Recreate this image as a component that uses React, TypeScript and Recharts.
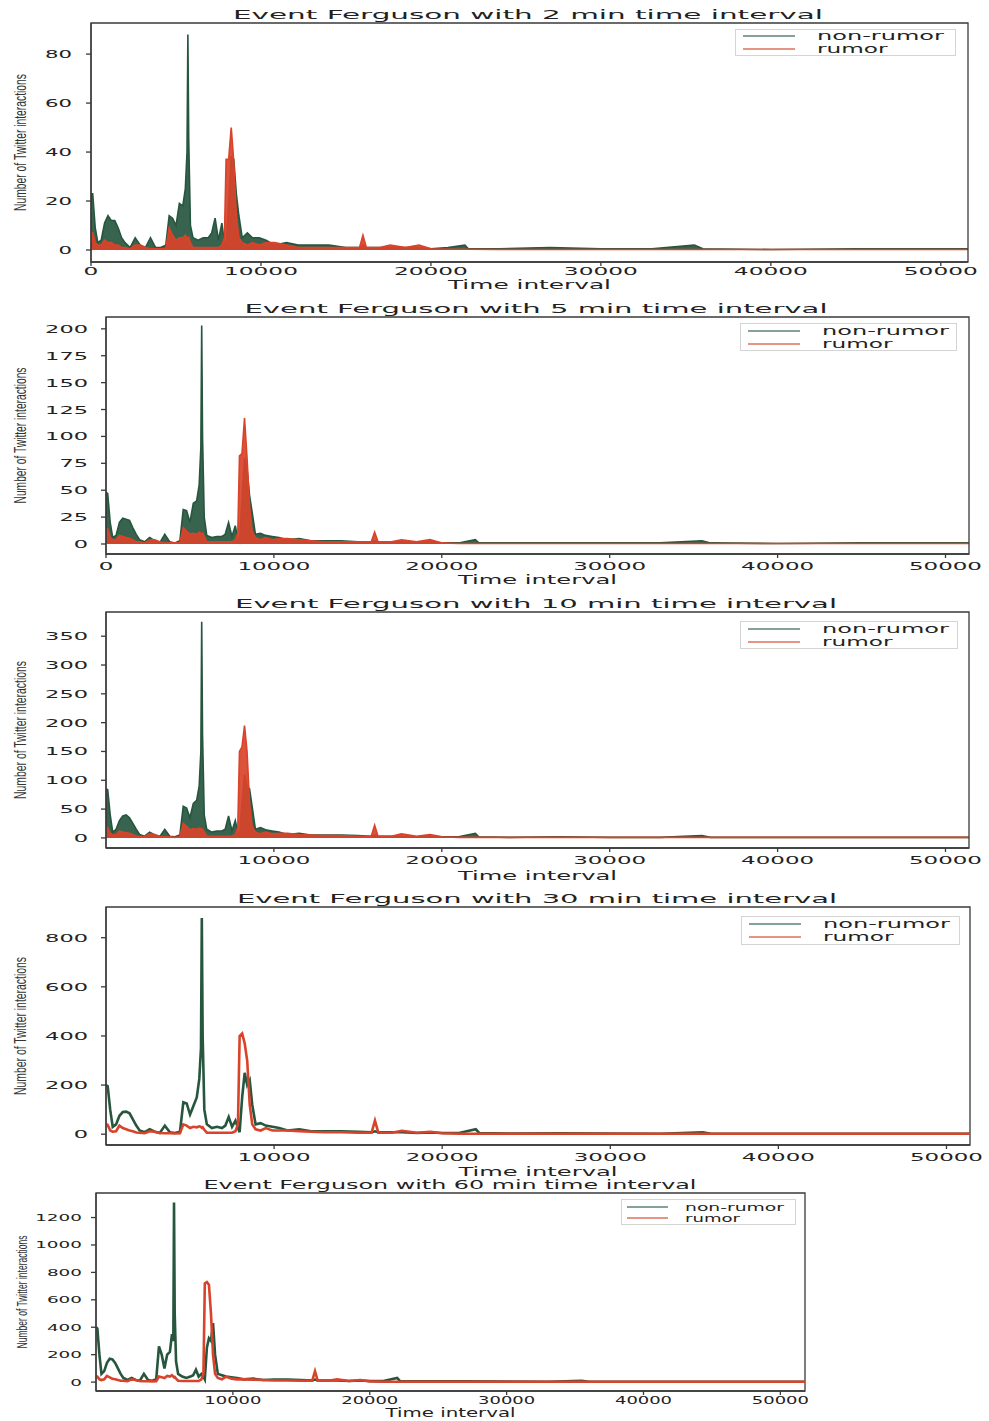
import React from 'react';
import { ComposedChart, Line, Area, XAxis, YAxis, Legend, Label, ReferenceArea } from 'recharts';

// shared time positions (x axis), same for all five panels
const TIME = [
  0, 100, 250, 400, 600, 800, 1000, 1200, 1400, 1600, 1800, 2000,
  2300, 2600, 2900, 3200, 3500, 3800, 4100, 4400,
  4600, 4800, 5000, 5200, 5400, 5550, 5650, 5700, 5750, 5850,
  6000, 6300, 6600, 6900, 7100, 7300, 7500, 7700, 7850, 7950,
  8100, 8250, 8400, 8550, 8700, 8900, 9200, 9500, 9900, 10300,
  10800, 11500, 12200, 13000, 14000, 15000, 15800, 16000, 16200, 17000,
  17600, 18500, 19300, 20000, 21000, 22000, 22200, 24000, 27000, 30000,
  33000, 35500, 36000, 40000, 45000, 49000, 51800,
];

const NON_RUMOR_2 = [
  23, 23, 9, 3, 4, 11, 14, 12, 12, 9, 5, 3,
  1, 5, 2, 1, 5, 1, 1, 2,
  14, 13, 10, 19, 18, 25, 40, 88, 45, 10,
  5, 4, 5, 5, 7, 13, 4, 11, 3, 1,
  20, 38, 37, 23, 14, 5, 7, 5, 5, 4,
  2, 3, 2, 2, 2, 1, 1, 2, 1, 1,
  1, 1, 1, 0.5, 1, 2, 0.5, 0.5, 1, 0.5,
  0.5, 2, 0.5, 0.2, 0.5, 0.5, 0.5,
];
const RUMOR_2 = [
  7, 7, 3, 2, 2, 4, 3, 3, 2, 2, 1, 1,
  0.5, 2, 2, 1, 0.5, 0.5, 0.5, 0.5,
  9, 6, 4, 5, 5, 6, 5, 4, 5, 3,
  1, 1, 1, 1, 1, 1, 1, 2, 5, 37,
  37, 50, 36, 14, 5, 3, 2, 3, 2, 3,
  3, 2, 1, 1, 1, 1, 1, 6, 1, 1,
  2, 1, 2, 0.5, 0.3, 0.3, 0.3, 0.2, 0.2, 0.2,
  0.2, 0.2, 0.2, 0.2, 0.2, 0.2, 0.2,
];

const NON_RUMOR_5 = [
  48, 47, 20, 6, 8, 20, 24, 23, 22, 15, 9, 4,
  2, 6, 3, 1, 9, 2, 1, 3,
  32, 31, 20, 38, 40, 55, 90, 203, 100, 25,
  8, 6, 7, 7, 9, 20, 7, 17, 5, 2,
  40, 80, 70, 45, 30, 9, 10, 8, 7, 6,
  4, 5, 3, 3, 3, 2, 2, 3, 2, 2,
  2, 1, 2, 1, 1, 4, 1, 1, 1, 1,
  1, 3, 1, 0.5, 1, 1, 1,
];
const RUMOR_5 = [
  15, 14, 6, 4, 4, 8, 7, 6, 5, 4, 2, 2,
  1, 4, 4, 2, 1, 1, 1, 1,
  15, 12, 9, 10, 9, 11, 10, 9, 10, 7,
  2, 2, 2, 2, 2, 2, 2, 4, 10, 82,
  84, 117, 80, 35, 12, 6, 4, 6, 4, 5,
  5, 4, 3, 2, 2, 2, 2, 11, 2, 2,
  4, 2, 4, 1, 0.5, 0.5, 0.5, 0.5, 0.5, 0.5,
  0.5, 0.5, 0.5, 0.5, 0.5, 0.5, 0.5,
];

const NON_RUMOR_10 = [
  85, 84, 40, 10, 15, 30, 38, 40, 35, 25, 15, 6,
  3, 10, 5, 2, 15, 3, 2, 5,
  55, 52, 35, 60, 65, 90, 150, 375, 180, 40,
  15, 10, 12, 12, 15, 38, 12, 30, 10, 3,
  60, 110, 90, 85, 55, 15, 18, 14, 12, 10,
  6, 8, 5, 5, 5, 4, 3, 5, 3, 3,
  3, 2, 3, 2, 2, 8, 2, 1, 2, 1,
  1, 4, 1, 1, 1, 1, 1,
];
const RUMOR_10 = [
  20, 18, 8, 5, 6, 12, 10, 9, 8, 6, 3, 3,
  2, 7, 6, 3, 2, 2, 1, 2,
  25, 20, 14, 16, 15, 17, 16, 14, 15, 10,
  3, 3, 3, 3, 3, 3, 3, 6, 18, 150,
  158, 195, 150, 60, 20, 10, 7, 10, 7, 8,
  8, 6, 5, 4, 4, 3, 3, 22, 3, 3,
  7, 3, 6, 2, 1, 1, 1, 1, 1, 1,
  1, 1, 1, 1, 1, 1, 1,
];

const NON_RUMOR_30 = [
  200, 195, 100, 30, 40, 75, 90, 92, 85, 60, 35, 15,
  8, 20, 10, 5, 35, 8, 5, 10,
  130, 125, 80, 115, 150, 225, 350, 880, 400, 100,
  40, 25, 30, 25, 35, 70, 30, 55, 25, 8,
  150, 250, 200, 220, 120, 40, 45, 35, 30, 25,
  15, 20, 12, 12, 12, 10, 8, 12, 8, 8,
  8, 5, 7, 5, 5, 20, 5, 3, 4, 3,
  2, 8, 2, 2, 2, 2, 2,
];
const RUMOR_30 = [
  40, 38, 15, 10, 12, 35, 25, 20, 15, 12, 7, 6,
  4, 12, 10, 5, 4, 4, 3, 4,
  40, 35, 25, 30, 28, 32, 30, 26, 28, 18,
  6, 6, 6, 6, 6, 6, 6, 12, 40, 400,
  410, 370, 300, 120, 40, 20, 15, 25, 15, 15,
  15, 12, 10, 8, 8, 6, 6, 55, 6, 6,
  14, 6, 10, 4, 2, 2, 2, 2, 2, 2,
  2, 2, 2, 2, 2, 2, 2,
];

const NON_RUMOR_60 = [
  400, 390, 200, 60, 80, 140, 170, 165, 140, 100, 60, 30,
  15, 30, 15, 10, 60, 15, 10, 20,
  260, 200, 100, 200, 220, 350, 300, 1310, 500, 150,
  60, 40, 30, 40, 50, 90, 40, 60, 40, 20,
  250, 320, 300, 430, 200, 60, 50, 40, 35, 30,
  20, 25, 15, 18, 18, 15, 12, 18, 12, 12,
  12, 8, 12, 8, 8, 30, 8, 5, 6, 4,
  3, 10, 3, 3, 3, 3, 3,
];
const RUMOR_60 = [
  40, 40, 20, 15, 20, 45, 35, 25, 20, 15, 10, 10,
  6, 20, 15, 8, 6, 6, 5, 6,
  40, 35, 30, 45, 40, 50, 40, 35, 38, 25,
  10, 8, 8, 8, 8, 8, 8, 20, 60, 720,
  730, 710, 500, 200, 60, 30, 20, 40, 25, 20,
  20, 18, 15, 12, 12, 10, 10, 80, 10, 10,
  20, 8, 15, 5, 3, 3, 3, 3, 3, 3,
  3, 3, 3, 3, 3, 3, 3,
];

const X_TICKS_ALL = [0, 10000, 20000, 30000, 40000, 50000];
const X_TICKS_NO_ZERO = [10000, 20000, 30000, 40000, 50000];
const Y_TICKS_2 = [0, 20, 40, 60, 80];
const Y_TICKS_5 = [0, 25, 50, 75, 100, 125, 150, 175, 200];
const Y_TICKS_10 = [0, 50, 100, 150, 200, 250, 300, 350];
const Y_TICKS_30 = [0, 200, 400, 600, 800];
const Y_TICKS_60 = [0, 200, 400, 600, 800, 1000, 1200];

const GREEN = '#27563f';
const RED = '#d9432a';
const INK = '#222';
const FRAME = '#3a3a3a';
const FONT = '"DejaVu Sans", Verdana, sans-serif';
const NARROW = '"Liberation Sans Narrow", "Liberation Sans", Arial, sans-serif';

const PANELS = [
  {
    title: 'Event Ferguson with 2 min time interval', nonRumor: NON_RUMOR_2, rumor: RUMOR_2, dense: true,
    xTicks: X_TICKS_ALL, yTicks: Y_TICKS_2, yDomain: [-4.9, 92.7], xMax: 51600,
    top: 0, height: 300, left: 91, right: 968, plotTop: 23, plotBottom: 262,
    titleX: 528, titleY: 14, titleLen: 590, titleFs: 13,
    xLabelY: 284, xLabelLen: 163, yLabelLen: 137, yLabelX: 26, yLabelFs: 16,
    yGap: 19, ycw: 13.5, xcw: 14.8, xTickDy: 9, tickFs: 10.5,
    legend: { x: 735, y: 29, w: 221, h: 27, lx: 8, ll: 52, tx: 82, cw: 14.1, r1: 7, r2: 20, fs: 11.5 },
  },
  {
    title: 'Event Ferguson with 5 min time interval', nonRumor: NON_RUMOR_5, rumor: RUMOR_5, dense: true,
    xTicks: X_TICKS_ALL, yTicks: Y_TICKS_5, yDomain: [-9.3, 211], xMax: 51400,
    top: 300, height: 290, left: 106, right: 969, plotTop: 317, plotBottom: 554,
    titleX: 536, titleY: 308, titleLen: 583, titleFs: 13,
    xLabelY: 579, xLabelLen: 159, yLabelLen: 136, yLabelX: 26, yLabelFs: 16,
    yGap: 18, ycw: 14.3, xcw: 14.6, xTickDy: 12, tickFs: 10.5,
    legend: { x: 740, y: 323, w: 217, h: 28, lx: 8, ll: 52, tx: 82, cw: 14.1, r1: 8, r2: 21, fs: 11.5 },
  },
  {
    title: 'Event Ferguson with 10 min time interval', nonRumor: NON_RUMOR_10, rumor: RUMOR_10, dense: true,
    xTicks: X_TICKS_NO_ZERO, yTicks: Y_TICKS_10, yDomain: [-17.5, 392], xMax: 51400,
    top: 590, height: 295, left: 106, right: 969, plotTop: 612, plotBottom: 848,
    titleX: 536, titleY: 603, titleLen: 602, titleFs: 13,
    xLabelY: 875, xLabelLen: 159, yLabelLen: 138, yLabelX: 26, yLabelFs: 16,
    yGap: 18, ycw: 14.3, xcw: 14.6, xTickDy: 12, tickFs: 10.5,
    legend: { x: 740, y: 621, w: 218, h: 28, lx: 8, ll: 52, tx: 82, cw: 14.1, r1: 8, r2: 21, fs: 11.5 },
  },
  {
    title: 'Event Ferguson with 30 min time interval', nonRumor: NON_RUMOR_30, rumor: RUMOR_30, dense: false,
    xTicks: X_TICKS_NO_ZERO, yTicks: Y_TICKS_30, yDomain: [-44, 925], xMax: 51400,
    top: 885, height: 295, left: 106, right: 970, plotTop: 907, plotBottom: 1145,
    titleX: 537, titleY: 898, titleLen: 600, titleFs: 13,
    xLabelY: 1171, xLabelLen: 159, yLabelLen: 138, yLabelX: 26, yLabelFs: 16,
    yGap: 18, ycw: 14.3, xcw: 14.6, xTickDy: 12, tickFs: 10.5,
    legend: { x: 741, y: 916, w: 219, h: 29, lx: 8, ll: 52, tx: 82, cw: 14.1, r1: 8, r2: 21, fs: 11.5 },
  },
  {
    title: 'Event Ferguson with 60 min time interval', nonRumor: NON_RUMOR_60, rumor: RUMOR_60, dense: false,
    xTicks: X_TICKS_NO_ZERO, yTicks: Y_TICKS_60, yDomain: [-65, 1379], xMax: 51800,
    top: 1176, height: 245, left: 96, right: 805, plotTop: 1193, plotBottom: 1391,
    titleX: 450, titleY: 1185, titleLen: 493, titleFs: 11.5,
    xLabelY: 1413, xLabelLen: 130, yLabelLen: 113, yLabelX: 27, yLabelFs: 14,
    yGap: 14, ycw: 11.7, xcw: 11.4, xTickDy: 9, tickFs: 9.5,
    legend: { x: 621, y: 1199, w: 175, h: 26, lx: 6, ll: 41, tx: 64, cw: 11, r1: 8, r2: 19, fs: 10 },
  },
];

const StretchText = ({ x, y, len, fs, anchor = 'middle', children }: any) => (
  <text
    x={x}
    y={y}
    textAnchor={anchor}
    dominantBaseline="central"
    fontFamily={FONT}
    fontSize={fs}
    fill={INK}
    textLength={len}
    lengthAdjust="spacingAndGlyphs"
  >
    {children}
  </text>
);

const LegendBox = ({ lg }: any) => (
  <svg width={lg.w} height={lg.h} style={{ display: 'block' }}>
    <rect x={0.5} y={0.5} width={lg.w - 1} height={lg.h - 1} fill="#fff" stroke="#d4d4d4" />
    <line x1={lg.lx} x2={lg.lx + lg.ll} y1={lg.r1} y2={lg.r1} stroke="#5b8572" strokeWidth={1.5} />
    <line x1={lg.lx} x2={lg.lx + lg.ll} y1={lg.r2} y2={lg.r2} stroke="#e0705c" strokeWidth={1.5} />
    <StretchText x={lg.tx} y={lg.r1} len={9 * lg.cw} fs={lg.fs} anchor="start">non-rumor</StretchText>
    <StretchText x={lg.tx} y={lg.r2} len={5 * lg.cw} fs={lg.fs} anchor="start">rumor</StretchText>
  </svg>
);

const Panel = ({ p }: any) => {
  const data = TIME.map((t, i) => ({ t, nonRumor: p.nonRumor[i], rumor: p.rumor[i] }));
  const oy = p.top;
  const midY = (p.plotTop + p.plotBottom) / 2 - oy;

  const xTick = (props: any) => {
    const s = String(props.payload.value);
    return (
      <StretchText x={props.x} y={p.plotBottom - oy + p.xTickDy} len={s.length * p.xcw} fs={p.tickFs + 0.5}>
        {s}
      </StretchText>
    );
  };
  const yTick = (props: any) => {
    const s = String(props.payload.value);
    return (
      <StretchText x={p.left - p.yGap} y={props.y} len={s.length * p.ycw} fs={p.tickFs} anchor="end">
        {s}
      </StretchText>
    );
  };

  const series = (key: string, color: string) =>
    p.dense ? (
      <Area
        dataKey={key}
        type="linear"
        stroke={color}
        strokeWidth={1.6}
        fill={color}
        fillOpacity={0.92}
        dot={false}
        activeDot={false}
        isAnimationActive={false}
      />
    ) : (
      <Line
        dataKey={key}
        type="linear"
        stroke={color}
        strokeWidth={2.6}
        dot={false}
        activeDot={false}
        isAnimationActive={false}
      />
    );

  return (
    <div style={{ position: 'absolute', left: 0, top: oy }}>
      <ComposedChart
        width={989}
        height={p.height}
        data={data}
        margin={{ top: p.plotTop - oy, right: 989 - p.right, bottom: 0, left: 0 }}
      >
        <XAxis
          dataKey="t"
          type="number"
          domain={[0, p.xMax]}
          ticks={p.xTicks}
          interval={0}
          allowDataOverflow
          height={p.height - (p.plotBottom - oy)}
          stroke={FRAME}
          strokeWidth={1.3}
          tickSize={4}
          tick={xTick}
        >
          <Label
            content={() => (
              <g>
                <StretchText x={p.titleX} y={p.titleY - oy} len={p.titleLen} fs={p.titleFs}>
                  {p.title}
                </StretchText>
                <StretchText x={(p.left + p.right) / 2} y={p.xLabelY - oy} len={p.xLabelLen} fs={p.titleFs}>
                  Time interval
                </StretchText>
              </g>
            )}
          />
        </XAxis>
        <YAxis
          type="number"
          domain={p.yDomain}
          ticks={p.yTicks}
          interval={0}
          allowDataOverflow
          width={p.left}
          stroke={FRAME}
          strokeWidth={1.3}
          tickSize={5}
          tick={yTick}
        >
          <Label
            content={() => (
              <text
                transform={`translate(${p.yLabelX},${midY}) rotate(-90)`}
                textAnchor="middle"
                fontFamily={NARROW}
                fontSize={p.yLabelFs}
                fill="#333"
                textLength={p.yLabelLen}
                lengthAdjust="spacingAndGlyphs"
              >
                Number of Twitter interactions
              </text>
            )}
          />
        </YAxis>
        <Legend
          layout="horizontal"
          verticalAlign="middle"
          align="center"
          width={p.legend.w}
          height={p.legend.h}
          wrapperStyle={{ left: p.legend.x, top: p.legend.y - oy, width: p.legend.w, height: p.legend.h }}
          content={() => <LegendBox lg={p.legend} />}
        />
        {series('nonRumor', GREEN)}
        {series('rumor', RED)}
        <ReferenceArea
          x1={0}
          x2={p.xMax}
          y1={p.yDomain[0]}
          y2={p.yDomain[1]}
          fill="none"
          fillOpacity={0}
          stroke={FRAME}
          strokeWidth={1.3}
          ifOverflow="visible"
        />
      </ComposedChart>
    </div>
  );
};

export default function App() {
  return (
    <div style={{ position: 'absolute', left: 0, top: 0, width: 989, height: 1421, background: '#fff' }}>
      {PANELS.map((p) => (
        <Panel key={p.title} p={p} />
      ))}
    </div>
  );
}
